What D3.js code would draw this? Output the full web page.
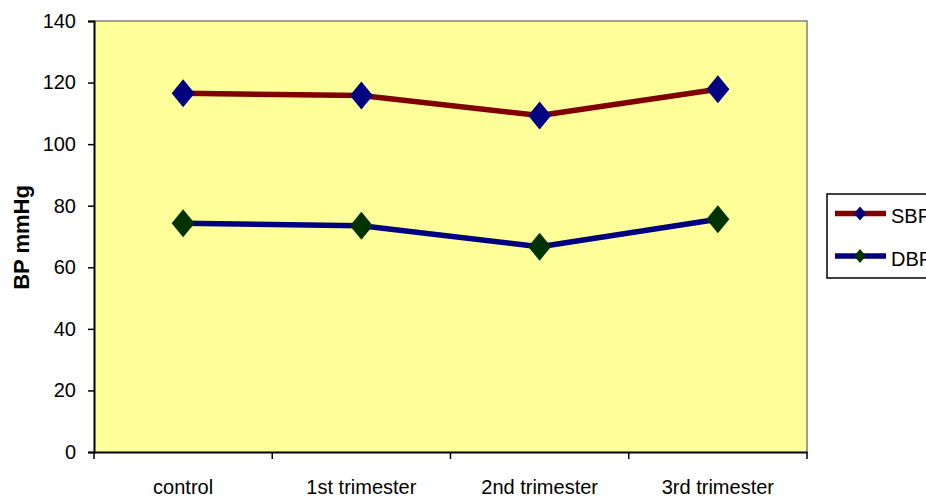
<!DOCTYPE html>
<html>
<head>
<meta charset="utf-8">
<script src="https://cdn.jsdelivr.net/npm/d3@7"></script>
<style>
  html, body { margin: 0; padding: 0; background: #fff; overflow: hidden; }
  svg { display: block; font-family: "Liberation Sans", Arial, sans-serif; }
</style>
</head>
<body>
<svg id="chart" width="926" height="502"></svg>
<script>
// Blood pressure across pregnancy stages
const categories = ["control", "1st trimester", "2nd trimester", "3rd trimester"];
const sbpValues = [116.5, 115.8, 109.3, 117.8];
const dbpValues = [74.3, 73.5, 66.7, 75.6];
const yTicks = [0, 20, 40, 60, 80, 100, 120, 140];
const seriesNames = ["SBP", "DBP"];

const series = [
  { name: seriesNames[0], values: sbpValues, line: "#800000", marker: "#000080" },
  { name: seriesNames[1], values: dbpValues, line: "#000080", marker: "#003300" }
];

const svg = d3.select("#chart");
const plot = { left: 94, right: 807, top: 21, bottom: 452 };
const FONT = "Liberation Sans, Arial, sans-serif";

const x = d3.scaleBand().domain(categories).range([plot.left, plot.right]);
const y = d3.scaleLinear().domain([0, 140]).range([plot.bottom, plot.top]);

// plot area background
svg.append("rect")
  .attr("x", plot.left).attr("y", plot.top)
  .attr("width", plot.right - plot.left).attr("height", plot.bottom - plot.top)
  .attr("fill", "#FFFF99");

// grey frame on top and right
svg.append("path")
  .attr("d", `M${plot.left},${plot.top}H${plot.right}V${plot.bottom}`)
  .attr("fill", "none").attr("stroke", "#808080").attr("stroke-width", 1.5);

// y axis
const yAxis = svg.append("g")
  .attr("transform", `translate(${plot.left},0)`)
  .call(d3.axisLeft(y).tickValues(yTicks).tickSize(6).tickPadding(12));
yAxis.select(".domain").attr("stroke", "#000").attr("stroke-width", 2);
yAxis.selectAll(".tick line").attr("stroke", "#000").attr("stroke-width", 1.5);
yAxis.selectAll(".tick text").attr("font-size", 20).attr("fill", "#000")
  .attr("font-family", FONT);

// x axis: ticks at category boundaries
const xAxis = svg.append("g")
  .attr("transform", `translate(0,${plot.bottom})`)
  .call(d3.axisBottom(x).tickSize(0).tickPadding(28));
xAxis.select(".domain").attr("stroke", "#000").attr("stroke-width", 2);
xAxis.selectAll(".tick text").attr("font-size", 20).attr("fill", "#000")
  .attr("font-family", FONT);
const boundaries = categories.map(c => x(c)).concat([x(categories[categories.length - 1]) + x.bandwidth()]);
xAxis.selectAll(".bound")
  .data(boundaries).enter().append("line")
  .attr("x1", d => d).attr("x2", d => d)
  .attr("y1", 0).attr("y2", 7)
  .attr("stroke", "#000").attr("stroke-width", 1.5);

// y axis title
svg.append("text")
  .attr("transform", `translate(29,${(plot.top + plot.bottom) / 2 + 1}) rotate(-90)`)
  .attr("text-anchor", "middle")
  .attr("font-size", 22).attr("font-weight", "bold")
  .attr("font-family", FONT)
  .text("BP mmHg");

const cx = c => x(c) + x.bandwidth() / 2;
const line = d3.line().x((d, i) => cx(categories[i])).y(d => y(d));
const diamond = (hw, hh) => `M0,${-hh}L${hw},0L0,${hh}L${-hw},0Z`;

series.forEach(s => {
  svg.append("path")
    .datum(s.values)
    .attr("d", line)
    .attr("fill", "none")
    .attr("stroke", s.line)
    .attr("stroke-width", 5.5)
    .attr("stroke-linejoin", "round");
  svg.selectAll(null)
    .data(s.values).enter().append("path")
    .attr("transform", (d, i) => `translate(${cx(categories[i])},${y(d)})`)
    .attr("d", diamond(11.5, 14))
    .attr("fill", s.marker);
});

// legend
const legend = svg.append("g");
legend.append("rect")
  .attr("x", 827).attr("y", 194).attr("width", 120).attr("height", 84)
  .attr("fill", "#fff").attr("stroke", "#000").attr("stroke-width", 1.5);
series.forEach((s, i) => {
  const ly = 213.5 + i * 42.5;
  legend.append("line")
    .attr("x1", 835).attr("x2", 886).attr("y1", ly).attr("y2", ly)
    .attr("stroke", s.line).attr("stroke-width", 5.5);
  legend.append("path")
    .attr("transform", `translate(860,${ly})`)
    .attr("d", diamond(6, 7))
    .attr("fill", s.marker);
  legend.append("text")
    .attr("x", 891).attr("y", ly + 9.5)
    .attr("font-size", 20)
    .attr("font-family", FONT)
    .text(s.name);
});
</script>
</body>
</html>
